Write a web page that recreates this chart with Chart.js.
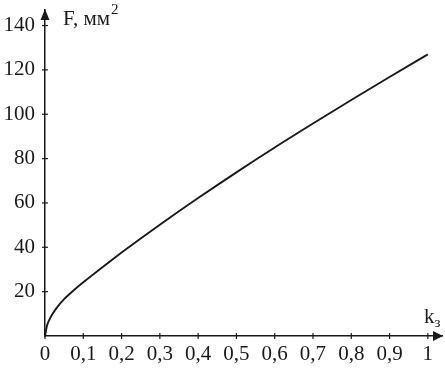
<!DOCTYPE html>
<html>
<head>
<meta charset="utf-8">
<script src="https://cdn.jsdelivr.net/npm/chart.js@4"></script>
<style>
  html, body { margin: 0; padding: 0; background: #fff; }
  #wrap { width: 445px; height: 369px; }
</style>
</head>
<body>
<div id="wrap"><canvas id="chart" width="445" height="369"></canvas></div>
<script>
// k (coefficient) and F (mm^2)
var kValues = [0, 0.005, 0.01, 0.02, 0.03, 0.05, 0.075, 0.1, 0.15, 0.2, 0.25, 0.3, 0.4, 0.5, 0.6, 0.7, 0.8, 0.9, 1.0];
var fValues = [0, 4.5, 6.8, 10, 12.6, 16.6, 20.6, 24.2, 31, 37.6, 44, 50.2, 62.2, 73.8, 85, 95.8, 106.4, 116.8, 127];
var xTicks = [0, 0.1, 0.2, 0.3, 0.4, 0.5, 0.6, 0.7, 0.8, 0.9, 1];
var yTicks = [20, 40, 60, 80, 100, 120, 140];

var serif = 'Liberation Serif, Times New Roman, serif';
var ink = '#1a1a1a';

var axisDecor = {
    id: 'axisDecor',
    afterDraw: function(chart) {
        var ctx = chart.ctx;
        var xs = chart.scales.x, ys = chart.scales.y;
        var x0 = xs.getPixelForValue(0), y0 = ys.getPixelForValue(0);
        var area = chart.chartArea;
        ctx.save();
        ctx.strokeStyle = ink;
        ctx.fillStyle = ink;
        ctx.lineWidth = 1.2;
        // tick marks crossing the axes
        xTicks.forEach(function(v) {
            var px = xs.getPixelForValue(v);
            ctx.beginPath(); ctx.moveTo(px, y0 - 3); ctx.lineTo(px, y0 + 3); ctx.stroke();
        });
        yTicks.forEach(function(v) {
            var py = ys.getPixelForValue(v);
            ctx.beginPath(); ctx.moveTo(x0 - 3, py); ctx.lineTo(x0 + 3, py); ctx.stroke();
        });
        // arrows
        ctx.beginPath();
        ctx.moveTo(x0, area.top - 1);
        ctx.lineTo(x0 - 4.5, area.top + 10);
        ctx.lineTo(x0 + 4.5, area.top + 10);
        ctx.closePath(); ctx.fill();
        ctx.beginPath();
        ctx.moveTo(area.right + 1, y0);
        ctx.lineTo(area.right - 9, y0 - 5);
        ctx.lineTo(area.right - 9, y0 + 5);
        ctx.closePath(); ctx.fill();
        // axis names
        ctx.font = '21px ' + serif;
        ctx.textBaseline = 'alphabetic';
        ctx.textAlign = 'left';
        ctx.fillText('F, мм', 63, 25);
        var w = ctx.measureText('F, мм').width;
        ctx.font = '15px ' + serif;
        ctx.fillText('2', 63 + w + 1, 14);
        ctx.font = '21px ' + serif;
        ctx.fillText('k', 424, 323);
        var kw = ctx.measureText('k').width;
        ctx.font = '15px ' + serif;
        ctx.fillText('з', 424 + kw, 327);
        ctx.restore();
    }
};

new Chart(document.getElementById('chart').getContext('2d'), {
    type: 'line',
    data: {
        datasets: [{
            data: kValues.map(function(k, i) { return { x: k, y: fValues[i] }; }),
            borderColor: ink,
            borderWidth: 1.9,
            pointRadius: 0,
            fill: false,
            cubicInterpolationMode: 'monotone'
        }]
    },
    options: {
        responsive: false,
        animation: false,
        layout: { padding: { top: 0, right: 3, left: 0, bottom: 0 } },
        plugins: { legend: { display: false }, tooltip: { enabled: false } },
        scales: {
            x: {
                type: 'linear',
                min: 0,
                max: 1.037,
                afterBuildTicks: function(scale) {
                    scale.ticks = xTicks.map(function(v) { return { value: v }; });
                },
                afterFit: function(scale) { scale.height = 33; },
                grid: { display: false, drawTicks: false },
                border: { display: true, color: ink, width: 1.5 },
                ticks: {
                    autoSkip: false,
                    maxRotation: 0,
                    padding: 6,
                    color: ink,
                    font: { family: serif, size: 21 },
                    callback: function(v) { return String(v).replace('.', ','); }
                }
            },
            y: {
                type: 'linear',
                min: 0,
                max: 147,
                afterBuildTicks: function(scale) {
                    scale.ticks = yTicks.map(function(v) { return { value: v }; });
                },
                afterFit: function(scale) {
                    scale.width = 45;
                    scale.paddingTop = 10;
                    scale.paddingBottom = 0;
                },
                grid: { display: false, drawTicks: false },
                border: { display: true, color: ink, width: 1.5 },
                ticks: {
                    autoSkip: false,
                    padding: 10,
                    color: ink,
                    font: { family: serif, size: 21 }
                }
            }
        }
    },
    plugins: [axisDecor]
});
</script>
</body>
</html>
